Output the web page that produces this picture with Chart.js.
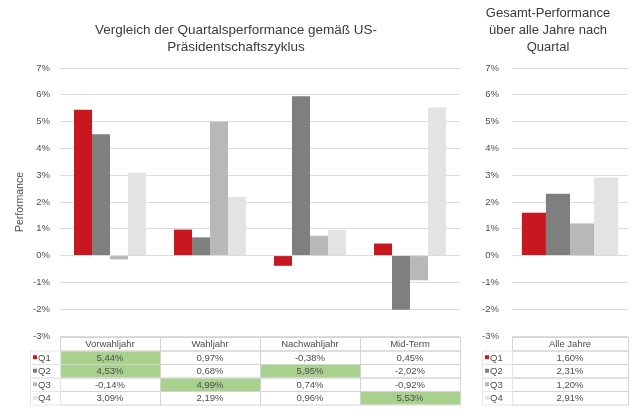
<!DOCTYPE html>
<html>
<head>
<meta charset="utf-8">
<script src="https://cdn.jsdelivr.net/npm/chart.js@4.4.1/dist/chart.umd.min.js"></script>
<style>
  body { margin: 0; background: #fff; }
  .panel { position: absolute; top: 0; height: 419px; }
  #left { left: 0; width: 462px; }
  #right { left: 462px; width: 172px; }
</style>
</head>
<body>
<div class="panel" id="left"><canvas id="cycleChart"></canvas></div>
<div class="panel" id="right"><canvas id="totalChart"></canvas></div>
<script>
// Quartalsperformance je Phase des Präsidentschaftszyklus (in %)
const phases = ["Vorwahljahr", "Wahljahr", "Nachwahljahr", "Mid-Term"];
const quarters = ["Q1", "Q2", "Q3", "Q4"];
const q1Cycle = [5.44, 0.97, -0.38, 0.45];
const q2Cycle = [4.53, 0.68, 5.95, -2.02];
const q3Cycle = [-0.14, 4.99, 0.74, -0.92];
const q4Cycle = [3.09, 2.19, 0.96, 5.53];

// Durchschnitt über alle Jahre
const totalLabels = ["Alle Jahre"];
const totalValues = [1.60, 2.31, 1.20, 2.91];

// grün hinterlegte Zellen der Tabelle
const highlighted = {
  "Vorwahljahr": ["Q1", "Q2"],
  "Wahljahr": ["Q3"],
  "Nachwahljahr": ["Q2"],
  "Mid-Term": ["Q4"]
};

const yMin = -3;
const yMax = 7;

const colors = ["#c8171e", "#7f7f7f", "#b8b8b8", "#e3e3e3"];
const FONT = "'Liberation Sans', Arial, sans-serif";
const textColor = "#4d4d4d";
const gridColor = "#dcdcdc";

function pct(v) {
  return v.toFixed(2).replace(".", ",") + "%";
}

// Titel oberhalb des Diagramms
const panelTitle = {
  id: "panelTitle",
  afterDraw(chart, args, opts) {
    const ctx = chart.ctx;
    ctx.save();
    ctx.font = opts.size + "px " + FONT;
    ctx.fillStyle = "#3a3a3a";
    ctx.textAlign = "center";
    ctx.textBaseline = "middle";
    opts.lines.forEach((line, i) => {
      ctx.fillText(line, chart.width / 2 + opts.shift, opts.top + i * opts.lineHeight);
    });
    ctx.restore();
  }
};

// Datentabelle unter der x-Achse, Spalten folgen den Kategorien der x-Skala
const dataTable = {
  id: "dataTable",
  afterDraw(chart, args, opts) {
    const ctx = chart.ctx;
    const xs = chart.scales.x;
    const area = chart.chartArea;
    const labels = chart.data.labels;
    const colW = area.width / labels.length;
    const rowH = opts.rowHeight;
    const top = Math.round(area.bottom) + 1;
    const sets = chart.data.datasets;
    const headW = opts.headWidth;

    ctx.save();
    ctx.lineWidth = 1;
    ctx.strokeStyle = "#d4d4d4";
    ctx.font = "9.5px " + FONT;
    ctx.textBaseline = "middle";

    labels.forEach((lab, c) => {
      const cx = xs.getPixelForValue(c);
      const x0 = Math.round(cx - colW / 2);
      // Kopfzeile
      ctx.strokeRect(x0 + 0.5, top + 0.5, Math.round(colW), rowH);
      ctx.fillStyle = textColor;
      ctx.textAlign = "center";
      ctx.fillText(lab, cx, top + rowH / 2 + 1);
      sets.forEach((ds, r) => {
        const y0 = top + rowH * (r + 1);
        const marks = (opts.highlighted && opts.highlighted[lab]) || [];
        if (marks.includes(ds.label)) {
          ctx.fillStyle = "#a9d18e";
          ctx.fillRect(x0 + 1, y0 + 1, Math.round(colW) - 1, rowH - 1);
        }
        ctx.strokeRect(x0 + 0.5, y0 + 0.5, Math.round(colW), rowH);
        ctx.fillStyle = textColor;
        ctx.fillText(pct(ds.data[c]), cx, y0 + rowH / 2 + 1);
      });
    });

    // Zeilenköpfe mit Legendensymbol
    ctx.strokeStyle = "#e6e6e6";
    sets.forEach((ds, r) => {
      const y0 = top + rowH * (r + 1);
      const x0 = Math.round(area.left) - headW;
      ctx.strokeRect(x0 + 0.5, y0 + 0.5, headW, rowH);
      ctx.fillStyle = ds.backgroundColor;
      ctx.fillRect(x0 + 3, y0 + rowH / 2 - 2, 4, 4);
      ctx.fillStyle = textColor;
      ctx.textAlign = "left";
      ctx.fillText(ds.label, x0 + 8, y0 + rowH / 2 + 1);
    });
    ctx.restore();
  }
};

function yScale(withTitle, width, padding) {
  return {
    min: yMin,
    max: yMax,
    afterFit(axis) { axis.width = width; },
    ticks: {
      stepSize: 1,
      padding: padding,
      color: textColor,
      font: { family: FONT, size: 9.5 },
      callback: (v) => v + "%"
    },
    grid: { color: gridColor, drawTicks: false },
    border: { display: false },
    title: {
      display: withTitle,
      text: "Performance",
      color: textColor,
      font: { family: FONT, size: 10.5 },
      padding: { top: 14, bottom: 0 }
    }
  };
}

function makeSets(series) {
  return quarters.map((q, i) => ({
    label: q,
    data: series[i],
    backgroundColor: colors[i],
    borderWidth: 0
  }));
}

new Chart(document.getElementById("cycleChart"), {
  type: "bar",
  data: {
    labels: phases,
    datasets: makeSets([q1Cycle, q2Cycle, q3Cycle, q4Cycle])
  },
  options: {
    responsive: true,
    maintainAspectRatio: false,
    animation: false,
    layout: { padding: { left: 0, right: 2, top: 68, bottom: 83 } },
    datasets: { bar: { categoryPercentage: 0.72, barPercentage: 1 } },
    scales: {
      x: { display: false },
      y: yScale(true, 60, 10)
    },
    plugins: {
      legend: { display: false },
      tooltip: { enabled: false },
      panelTitle: {
        lines: ["Vergleich der Quartalsperformance gemäß US-", "Präsidentschaftszyklus"],
        size: 13.5,
        shift: 5,
        top: 30,
        lineHeight: 17
      },
      dataTable: { rowHeight: 13.5, headWidth: 30, highlighted: highlighted }
    }
  },
  plugins: [panelTitle, dataTable]
});

new Chart(document.getElementById("totalChart"), {
  type: "bar",
  data: {
    labels: totalLabels,
    datasets: makeSets(totalValues.map((v) => [v]))
  },
  options: {
    responsive: true,
    maintainAspectRatio: false,
    animation: false,
    layout: { padding: { left: 0, right: 6, top: 68, bottom: 83 } },
    datasets: { bar: { categoryPercentage: 0.83, barPercentage: 1 } },
    scales: {
      x: { display: false },
      y: yScale(false, 50, 13)
    },
    plugins: {
      legend: { display: false },
      tooltip: { enabled: false },
      panelTitle: {
        lines: ["Gesamt-Performance", "über alle Jahre nach", "Quartal"],
        size: 13,
        shift: 0,
        top: 13,
        lineHeight: 17
      },
      dataTable: { rowHeight: 13.5, headWidth: 30, highlighted: {} }
    }
  },
  plugins: [panelTitle, dataTable]
});
</script>
</body>
</html>
